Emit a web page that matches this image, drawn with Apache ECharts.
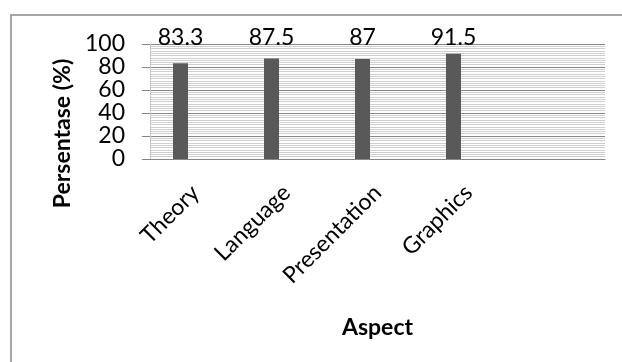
<!DOCTYPE html>
<html>
<head>
<meta charset="utf-8">
<script src="https://cdn.jsdelivr.net/npm/echarts@6/dist/echarts.min.js"></script>
<style>
  html, body { margin: 0; padding: 0; background: #fff; }
  #main { width: 622px; height: 362px; }
</style>
</head>
<body>
<div id="main"></div>
<script>
var categories = ["Theory", "Language", "Presentation", "Graphics", ""];
var scores = [83.3, 87.5, 87, 91.5, null];
var yTicks = { min: 0, max: 100, step: 20 };

// headroom up to the axis max, only used to pin the value labels above the plot
var headroom = scores.map(function (v) { return v == null ? null : yTicks.max - v; });

var chartDom = document.getElementById("main");
var myChart = echarts.init(chartDom, null, { renderer: "canvas" });
var font = "Lato";

var option = {
  backgroundColor: "#fff",
  animation: false,
  graphic: [
    {
      type: "rect",
      shape: { x: 11, y: 15, width: 640, height: 400 },
      style: { fill: "none", stroke: "#a6a6a6", lineWidth: 2 }
    }
  ],
  grid: { left: 150, right: 17, top: 44, bottom: 203 },
  xAxis: {
    type: "category",
    data: categories,
    name: "Aspect",
    nameLocation: "middle",
    nameGap: 157,
    nameTextStyle: { fontFamily: font, fontSize: 23, fontWeight: "bold", color: "#000" },
    axisLine: { lineStyle: { color: "#868686", width: 1 } },
    axisTick: { show: false },
    axisLabel: {
      rotate: 45,
      margin: 30,
      interval: 0,
      fontFamily: font,
      fontSize: 23,
      color: "#000"
    },
    splitLine: { show: false }
  },
  yAxis: {
    type: "value",
    min: yTicks.min,
    max: yTicks.max,
    interval: yTicks.step,
    name: "Persentase (%)",
    nameLocation: "middle",
    nameGap: 76,
    nameRotate: 90,
    nameTextStyle: {
      fontFamily: font, fontSize: 23, fontWeight: "bold", color: "#000",
      padding: [0, 64, 0, 0]
    },
    axisLine: { show: true, lineStyle: { color: "#c8c8c8" } },
    axisTick: { show: true, length: 8, lineStyle: { color: "#868686" } },
    axisLabel: { margin: 25, fontFamily: font, fontSize: 23, color: "#000" },
    splitLine: { show: true, lineStyle: { color: "#868686", width: 1 } },
    minorTick: { show: false, splitNumber: 10 },
    minorSplitLine: { show: true, lineStyle: { color: "#cfcfcf", width: 1 } }
  },
  series: [
    {
      name: "Persentase",
      type: "bar",
      stack: "a",
      data: scores,
      barWidth: 15,
      itemStyle: { color: "#595959" }
    },
    {
      name: "label",
      type: "bar",
      stack: "a",
      data: headroom,
      barWidth: 15,
      itemStyle: { color: "rgba(0,0,0,0)" },
      label: {
        show: true,
        position: "top",
        distance: -5,
        fontFamily: font,
        fontSize: 23,
        color: "#000",
        formatter: function (p) { return scores[p.dataIndex]; }
      }
    },
    {
      name: "empty",
      type: "bar",
      data: categories.map(function () { return null; }),
      barWidth: 15,
      barGap: "100%"
    }
  ]
};

option && myChart.setOption(option);
</script>
</body>
</html>
